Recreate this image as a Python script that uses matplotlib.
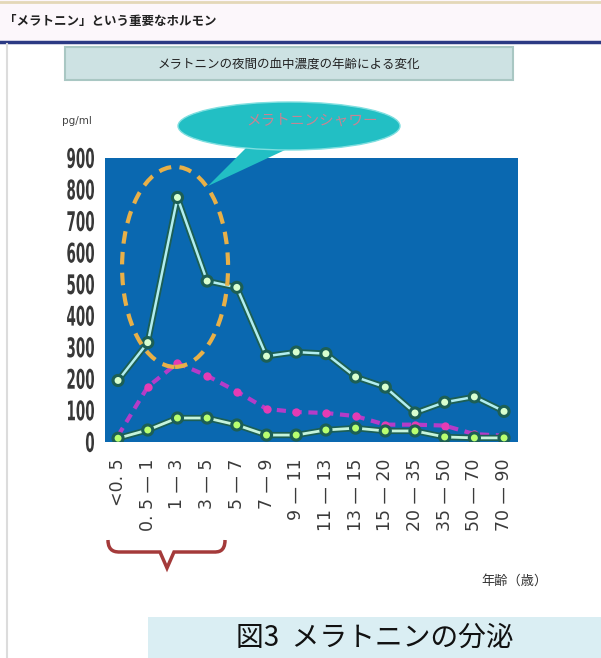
import numpy as np
import matplotlib.pyplot as plt
from matplotlib.patches import Ellipse, Rectangle, Polygon, PathPatch
from matplotlib.path import Path
from matplotlib.textpath import TextPath
from matplotlib.font_manager import FontProperties
from matplotlib.transforms import Affine2D
import matplotlib.patheffects as pe

# data (pg/ml, night-time melatonin by age group)
ages = ["<0. 5", "0. 5 — 1", "1 — 3", "3 — 5", "5 — 7", "7 — 9", "9 — 11",
        "11 — 13", "13 — 15", "15 — 20", "20 — 35", "35 — 50", "50 — 70",
        "70 — 90"]
high = [195, 315, 775, 510, 490, 272, 285, 280, 206, 174, 92, 126, 143, 97]
mid = [20, 175, 250, 210, 160, 105, 95, 92, 82, 55, 55, 52, 25, 20]
low = [12, 38, 76, 76, 54, 22, 22, 38, 44, 35, 35, 16, 13, 13]
yticks = list(range(0, 901, 100))

title = "「メラトニン」という重要なホルモン"
subtitle = "メラトニンの夜間の血中濃度の年齢による変化"
callout = "メラトニンシャワー"
xlabel = "年齢（歳）"
ylabel = "pg/ml"
caption = "図3  メラトニンの分泌"

jp = ['Noto Sans CJK JP', 'DejaVu Sans']

W, H = 601, 658
fig = plt.figure(figsize=(W / 100, H / 100), dpi=100)
fig.patch.set_facecolor('white')

# main chart ###########################################################
ax = fig.add_axes([105 / W, 1 - 442 / H, 413 / W, 284 / H])
ax.set_facecolor('#0a68b0')
x = np.arange(len(ages))
ax.set_xlim(-0.44, 13.47)
ax.set_ylim(0, 900)
ax.set_yticks(yticks)
ax.set_yticklabels([])
ax.set_xticks(x)
ax.set_xticklabels(ages, rotation=90, family='DejaVu Sans', fontsize=12.5,
                   color='#3a3a3a', va='top')
ax.tick_params(length=0)
ax.tick_params(axis='x', pad=12)
for s in ax.spines.values():
    s.set_visible(False)

shadow = [pe.Stroke(linewidth=4.5, foreground='#1c5f55'), pe.Normal()]
ax.plot(x, mid, color='#b43cc8', lw=3, ls=(0, (2.2, 1.6)), marker='o', ms=6,
        mfc='#e43cb4', mec='none', zorder=3)
ax.plot(x, low, color='#c6f4dc', lw=2, marker='o', ms=5, mfc='#b8ff70',
        mec='none', path_effects=shadow, zorder=4)
ax.plot(x, high, color='#b2eef0', lw=1.8, marker='o', ms=5, mfc='#d8ffd0',
        mec='none', path_effects=shadow, zorder=5)

# dashed ring round the childhood peak
ax.add_patch(Ellipse((1.92, 555), 3.57, 634, fill=False, ec='#e8b048',
                     lw=3, ls=(0, (3, 2)), zorder=6))

# narrow y tick labels (condensed digits like the original)
fp = FontProperties(family='DejaVu Sans', weight='bold')
for v in yticks:
    tp = TextPath((0, 0), str(v), size=27, prop=fp)
    ext = tp.get_extents()
    sx = 0.5
    px, py = ax.transData.transform((ax.get_xlim()[0], v))
    tr = Affine2D().scale(sx, 1).translate(94 - ext.x1 * sx,
                                           py - (ext.y0 + ext.y1) / 2)
    fig.add_artist(PathPatch(tp, transform=tr, fc='#383838', ec='none'))

# overlay in pixel coords for the page decorations ######################
ov = fig.add_axes([0, 0, 1, 1])
ov.set_xlim(0, W)
ov.set_ylim(H, 0)
ov.axis('off')

ov.add_patch(Rectangle((0, 0), W, 42, fc='#fcf7fb', ec='none'))
ov.plot([0, W], [2, 2], color='#e4d8b8', lw=2)
ov.plot([0, W], [42, 42], color='#2c3a84', lw=2.5)
ov.plot([7, 7], [44, H], color='#dcdcdc', lw=1.5)
ov.text(4, 22, title, family=jp, fontsize=9, weight='bold', color='#222222',
        va='center')

ov.add_patch(Rectangle((65, 47), 448, 33, fc='#cde2e3', ec='#a9c7c3', lw=1.5))
ov.text(289, 64, subtitle, family=jp, fontsize=9, color='#222222',
        ha='center', va='center')

ov.text(77, 121, ylabel, family='DejaVu Sans', fontsize=7.5, color='#444444',
        ha='center', va='center')

# speech bubble
ov.add_patch(Polygon([(248, 146), (300, 143), (208, 186)], closed=True,
                     fc='#22bfc4', ec='none'))
ov.add_patch(Ellipse((289, 126), 222, 48, fc='#22bfc4', ec='#7fdfe0', lw=1))
ov.text(312, 121, callout, family=jp, fontsize=10.5, color='#c88494',
        ha='center', va='center')

# curly brace under the first age groups
verts = [(108, 540), (108, 552), (116, 552), (120, 552),
         (160, 552), (160, 552), (167, 568),
         (174, 552), (174, 552), (214, 552),
         (218, 552), (225, 552), (225, 540)]
codes = [Path.MOVETO, Path.CURVE4, Path.CURVE4, Path.CURVE4,
         Path.LINETO, Path.CURVE3, Path.CURVE3,
         Path.CURVE3, Path.CURVE3, Path.LINETO,
         Path.CURVE4, Path.CURVE4, Path.CURVE4]
ov.add_patch(PathPatch(Path(verts, codes), fill=False, ec='#a43a3a', lw=2.5))

ov.text(548, 581, xlabel, family=jp, fontsize=9.5, color='#333333',
        ha='right', va='center')

ov.add_patch(Rectangle((148, 617), W - 148, H - 617, fc='#daeef3', ec='none'))
ov.text(375, 638, caption, family=jp, fontsize=20, color='#111111',
        ha='center', va='center')

fig.savefig('out.png', dpi=100)
